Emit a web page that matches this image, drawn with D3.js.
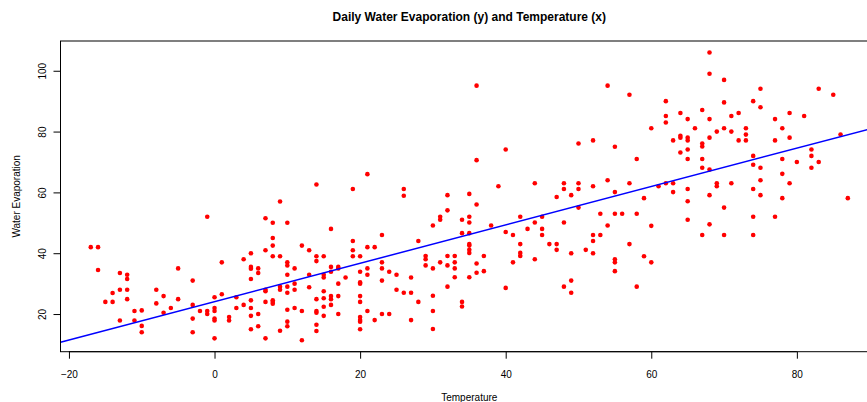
<!DOCTYPE html>
<html>
<head>
<meta charset="utf-8">
<script src="https://cdn.jsdelivr.net/npm/d3@7"></script>
<style>
  html, body { margin: 0; padding: 0; background: #fff; }
  svg { display: block; }
</style>
</head>
<body>
<div id="chart"></div>
<script>
// Daily water evaporation vs temperature, scatter + fitted line (R base-graphics look)

const temperature = [
  -17, -16, -16, -13, -12, -12, -14, -13, -12, -15, -14, -12, -8, -7, -8, -6, -7, -11, -10, -13, -11, -10, -10,
  -5, -5, -3, -3, -3, -3, -2, -1, -1, -1, 0, 0, 0, 0, 0, 0, 1, 1, 2, 2, 3, 3, 4, 4, 5, 5, 5, 5, 5, 5, 5, 5,
  6, 6, 6, 6, 7, 7, 7, 7, 7, 7, 8, 8, 8, 8, 8, 8, 8, 9, 9, 9, 9, 9, 10, 10, 10, 10, 10, 10, 10, 10, 10,
  11, 11, 11, 11, 12, 12, 12, 13, 13, 13, 14, 14, 14, 14, 14, 14, 14, 14, 15, 15, 15, 15, 15, 15, 15,
  16, 16, 16, 16, 16, 16, 17, 17, 17, 17, 17, 18, 19, 19, 19, 19, 20, 20, 20, 20, 20, 20, 20, 20, 20, 20,
  21, 21, 21, 21, 21, 22, 22, 23, 23, 23, 23, 23, 24, 24, 25, 25, 26, 26, 26,
  27, 27, 27, 28, 28, 29, 29, 29, 30, 30, 30, 30, 30, 31, 31, 31, 32, 32, 32, 32, 32, 33, 33, 33, 33,
  34, 34, 34, 34, 35, 35, 35, 35, 35, 35, 35, 35, 35, 36, 36, 36, 36, 36, 37, 37, 38, 39, 40, 40, 40,
  41, 41, 42, 42, 42, 42,
  43, 44, 44, 44, 45, 45, 45, 46, 47, 47, 47, 48, 48, 48, 48, 49, 49, 49, 49, 50, 50, 50, 50, 51,
  52, 52, 52, 52, 52, 53, 53, 54, 54, 54, 55, 55, 55, 55, 55, 55, 56, 57, 57, 57, 58, 58, 58,
  59, 59, 60, 60, 60, 61, 62, 62, 62, 62, 63, 63, 63, 64, 64, 64, 64, 65, 65, 65, 65, 65, 65, 65, 65,
  66, 67, 67, 67, 67, 67, 67, 68, 68, 68, 68, 68, 68, 68, 69, 69, 69, 70, 70, 70, 70, 70, 71, 71, 71,
  72, 72, 73, 73, 73, 74, 74, 74, 74, 74, 74,
  75, 75, 75, 75, 75, 77, 77, 77, 78, 78, 78, 78, 79, 79, 79, 80, 81, 82, 82, 82, 83, 83, 85, 86, 87
];

const evaporation = [
  42, 42, 34.5, 33.5, 32.9, 31.5, 26.9, 28, 28, 24, 24, 24.9, 28, 25.9, 23.5, 22, 20.4, 21, 21.2, 17.9, 17.9, 16.1, 14,
  35, 24.9, 31, 23, 18.5, 14, 21, 52, 21, 20, 25.5, 22, 21, 18.5, 17.9, 12, 37, 26.5, 19, 17.9, 25.5, 22, 38, 23, 40, 35.5, 34.9, 31.5, 24.5, 22, 19.4, 15,
  35, 33.5, 20, 16, 51.5, 41, 28, 27.5, 24, 12, 50, 45, 42.5, 39, 24.5, 24, 23.4, 57, 39, 29, 28, 14.5, 50, 37, 36, 32.9, 29, 27, 21.4, 17.5, 16,
  35, 30, 28, 22, 42.5, 21, 11.4, 41, 32.9, 28.8, 62.6, 39, 37.4, 24.9, 21, 20.4, 16.5, 14.4, 39, 32.9, 32, 27.5, 25.2, 22.4, 19.4,
  48, 35.5, 33.9, 25.9, 24.9, 23, 35.5, 35, 30, 25.9, 20, 32, 61.1, 44, 41, 39, 39, 33.9, 30.4, 30, 25.9, 24, 19, 18, 17.5, 15,
  66, 42, 35, 32.9, 21, 42, 18, 46, 37, 35, 31, 20, 33.9, 20, 32.9, 28, 61.1, 58.9, 27,
  32, 27, 18, 44, 24, 39.1, 38, 36, 49.1, 35, 26, 21, 15.1, 52, 51, 37, 59.1, 54.1, 39.1, 36, 29, 39.1, 37, 35, 32.1,
  51, 46.6, 24, 22.5, 59.5, 52, 50.1, 46.6, 43, 42.5, 41.1, 40.1, 32.1, 95.1, 70.6, 56, 36.6, 33.6, 39.1, 34.1, 49.1, 62, 74.1, 47, 28.6,
  46, 37, 52, 43, 40.1, 39.1,
  48, 63, 50.1, 38, 52, 48, 46, 43, 58.5, 43, 41.1, 63, 61.1, 50.1, 29, 59.1, 40, 31, 27, 76.1, 63, 61.1, 55, 41.1,
  77.1, 62, 46, 44, 40, 53, 46, 95.1, 64, 49.1, 75, 60.1, 53, 38, 37, 34.1, 53, 92.1, 63, 43, 71, 53, 29,
  58.1, 39, 81.1, 49, 37, 62, 90, 85.1, 83, 63, 77.1, 63, 60.1, 86.1, 78.6, 78, 73.1, 84.1, 78, 77.1, 74.1, 71, 61.1, 57.1, 51,
  81.1, 87.1, 76.1, 75.1, 71, 68.1, 46, 106, 99, 84.1, 78, 67.5, 59.1, 49.5, 80, 63, 62, 97, 89.6, 81.1, 55, 46, 85.1, 80, 63,
  86.1, 77.1, 81.1, 79, 77.1, 90, 72, 69.1, 61.1, 52, 46,
  94.1, 88, 68.1, 64, 59.1, 84.1, 77.1, 52, 81.1, 71, 66.1, 58.1, 86.1, 78, 63, 70, 85.1, 74.1, 72, 68.1, 94.1, 70, 92.1, 79, 58.1
];

const xTicks = [-20, 0, 20, 40, 60, 80];
const yTicks = [20, 40, 60, 80, 100];

// fitted line y = a + b x
const fitIntercept = 24.07;
const fitSlope = 0.631;

const W = 867, H = 402;
const MARGIN = { top: 41, right: -11.1, bottom: 50.3, left: 60.5 };
const FONT = '"Liberation Sans", Arial, Helvetica, sans-serif';

const points = temperature.map((t, i) => ({ x: t, y: evaporation[i] }));

// R pads the data range by 4% on each side
function rPad(ext) {
  const d = (ext[1] - ext[0]) * 0.04;
  return [ext[0] - d, ext[1] + d];
}

const svg = d3.select('#chart').append('svg')
  .attr('width', W).attr('height', H)
  .style('font-family', FONT);

const iw = W - MARGIN.left - MARGIN.right;
const ih = H - MARGIN.top - MARGIN.bottom;

const x = d3.scaleLinear().domain(rPad(d3.extent(temperature))).range([MARGIN.left, MARGIN.left + iw]);
const y = d3.scaleLinear().domain(rPad(d3.extent(evaporation))).range([MARGIN.top + ih, MARGIN.top]);

svg.append('defs').append('clipPath').attr('id', 'plotclip')
  .append('rect')
  .attr('x', MARGIN.left).attr('y', MARGIN.top)
  .attr('width', iw).attr('height', ih);

// Title
svg.append('text')
  .attr('x', MARGIN.left + iw / 2).attr('y', 21)
  .attr('text-anchor', 'middle')
  .style('font-size', '12px').style('font-weight', 'bold').style('fill', '#000')
  .text('Daily Water Evaporation (y) and Temperature (x)');

// Points
svg.append('g').attr('clip-path', 'url(#plotclip)')
  .selectAll('circle').data(points).join('circle')
  .attr('cx', d => x(d.x)).attr('cy', d => y(d.y))
  .attr('r', 2.3)
  .attr('fill', '#ff0000');

// Regression line (abline across the whole plot region)
const xd = x.domain();
svg.append('line')
  .attr('clip-path', 'url(#plotclip)')
  .attr('x1', x(xd[0])).attr('y1', y(fitIntercept + fitSlope * xd[0]))
  .attr('x2', x(xd[1])).attr('y2', y(fitIntercept + fitSlope * xd[1]))
  .attr('stroke', '#0000ff').attr('stroke-width', 1.5);

// Box
svg.append('rect')
  .attr('x', MARGIN.left).attr('y', MARGIN.top)
  .attr('width', iw).attr('height', ih)
  .attr('fill', 'none').attr('stroke', '#000').attr('stroke-width', 1);

// X axis
const gx = svg.append('g')
  .attr('transform', `translate(0,${MARGIN.top + ih})`)
  .call(d3.axisBottom(x).tickValues(xTicks).tickSize(7).tickPadding(12).tickFormat(d3.format('d')));
gx.select('.domain').attr('d', `M${x(xTicks[0])},0H${x(xTicks[xTicks.length - 1])}`);
gx.selectAll('text').style('font-size', '10px').style('font-family', FONT).attr('fill', '#000');
gx.selectAll('line').attr('stroke', '#000');

// Y axis
const gy = svg.append('g')
  .attr('transform', `translate(${MARGIN.left},0)`)
  .call(d3.axisLeft(y).tickValues(yTicks).tickSize(7).tickFormat(d3.format('d')));
gy.select('.domain').attr('d', `M0,${y(yTicks[0])}V${y(yTicks[yTicks.length - 1])}`);
gy.selectAll('line').attr('stroke', '#000');
gy.selectAll('text')
  .attr('x', null).attr('dy', null)
  .attr('text-anchor', 'middle')
  .attr('transform', 'translate(-14.9,0) rotate(-90)')
  .style('font-size', '10px').style('font-family', FONT).attr('fill', '#000');

// Axis titles
svg.append('text')
  .attr('x', MARGIN.left + iw / 2).attr('y', 400.5)
  .attr('text-anchor', 'middle')
  .style('font-size', '10px').style('fill', '#000')
  .text('Temperature');

svg.append('text')
  .attr('transform', `translate(20.3,${MARGIN.top + ih / 2}) rotate(-90)`)
  .attr('text-anchor', 'middle')
  .style('font-size', '10px').style('fill', '#000')
  .text('Water Evaporation');
</script>
</body>
</html>
